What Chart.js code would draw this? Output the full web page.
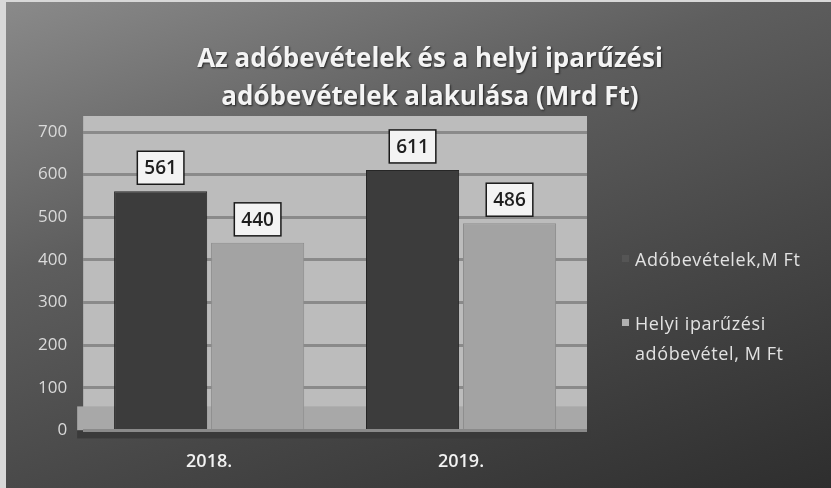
<!DOCTYPE html>
<html>
<head>
<meta charset="utf-8">
<script src="https://cdn.jsdelivr.net/npm/chart.js@4.4.1/dist/chart.umd.min.js"></script>
<style>
  html, body { margin: 0; padding: 0; }
  body { width: 831px; height: 488px; background: #d8d8d8; overflow: hidden; font-family: "Open Sans", sans-serif; }
  #wrap {
    position: absolute; left: 6px; top: 2px; width: 825px; height: 486px;
    background: linear-gradient(160deg, #8a8a8a 0%, #5e5e5e 35%, #474747 65%, #2e2e2e 100%);
  }
  #title {
    position: absolute; left: 130px; width: 600px; top: 38px;
    text-align: center; color: #f4f4f4; font-weight: bold; font-size: 26px; line-height: 38px;
    text-shadow: 1px 1px 2px #222;
  }
  #legend { position: absolute; left: 622px; top: 244px; color: #e2e2e2; font-size: 18px; letter-spacing: 0.6px; }
  #legend div { position: relative; padding-left: 13px; line-height: 30px; margin-bottom: 34px; }
  #legend span.box { position: absolute; left: 0; top: 11px; width: 7px; height: 7px; }
  canvas { position: absolute; left: 0; top: 0; }
</style>
</head>
<body>
<div id="wrap"></div>
<canvas id="myChart" width="831" height="488"></canvas>
<div id="title">Az adóbevételek és a helyi iparűzési<br>adóbevételek alakulása (Mrd Ft)</div>
<div id="legend"></div>
<script>
'use strict';
// data
var years = ['2018.', '2019.'];
var taxIncome = [561, 611];
var localTax = [440, 486];
var seriesNames = ['Adóbevételek,M Ft', 'Helyi iparűzési adóbevétel, M Ft'];
var yTicks = [0, 100, 200, 300, 400, 500, 600, 700];

var barColors = ['#3c3c3c', '#a3a3a3'];

// legend in html so the long name can wrap
var legendBox = document.getElementById('legend');
for (var i = 0; i < seriesNames.length; i++) {
    var item = document.createElement('div');
    var sq = document.createElement('span');
    sq.className = 'box';
    sq.style.background = i === 0 ? '#555' : '#b0b0b0';
    item.appendChild(sq);
    var t = document.createElement('span');
    // break the long one after "iparűzési" like the picture
    t.innerHTML = i === 1 ? 'Helyi iparűzési<br>adóbevétel, M Ft' : seriesNames[i];
    item.appendChild(t);
    legendBox.appendChild(item);
}

// grey back wall behind the bars
var wallPlugin = {
    id: 'wall',
    beforeDraw: function (chart) {
        var a = chart.chartArea;
        var ctx = chart.ctx;
        ctx.save();
        ctx.fillStyle = '#bcbcbc';
        ctx.fillRect(a.left, a.top - 16, a.right - a.left, a.bottom - a.top + 16);
        ctx.fillStyle = '#a8a8a8';
        ctx.fillRect(a.left - 6, a.bottom - 24, a.right - a.left + 6, 24);
        ctx.fillStyle = '#3a3a3a';
        ctx.fillRect(a.left - 6, a.bottom, a.right - a.left + 10, 8);
        ctx.restore();
    }
};

// value boxes above the bars
var valueBoxes = {
    id: 'valueBoxes',
    afterDatasetsDraw: function (chart) {
        var ctx = chart.ctx;
        ctx.save();
        ctx.font = '600 19px "Open Sans"';
        ctx.textAlign = 'center';
        ctx.textBaseline = 'middle';
        chart.data.datasets.forEach(function (ds, di) {
            chart.getDatasetMeta(di).data.forEach(function (bar, j) {
                var txt = String(ds.data[j]);
                var w = ctx.measureText(txt).width + 14;
                var h = 33;
                var x = bar.x - w / 2;
                var y = bar.y - 7 - h;
                ctx.fillStyle = '#f3f3f3';
                ctx.fillRect(x, y, w, h);
                ctx.lineWidth = 1.5;
                ctx.strokeStyle = '#1a1a1a';
                ctx.strokeRect(x, y, w, h);
                ctx.fillStyle = '#1e1e1e';
                ctx.fillText(txt, bar.x, y + h / 2 + 1);
            });
        });
        ctx.restore();
    }
};

var ctx = document.getElementById('myChart').getContext('2d');
var chart = new Chart(ctx, {
    type: 'bar',
    data: {
        labels: years,
        datasets: [{
            label: seriesNames[0],
            data: taxIncome,
            backgroundColor: barColors[0],
            borderColor: '#262626',
            borderWidth: 1
        }, {
            label: seriesNames[1],
            data: localTax,
            backgroundColor: barColors[1],
            borderColor: '#8e8e8e',
            borderWidth: 1
        }]
    },
    options: {
        responsive: false,
        animation: false,
        layout: { padding: { left: 22, right: 244, top: 132, bottom: 2 } },
        datasets: { bar: { categoryPercentage: 0.77, barPercentage: 0.96 } },
        plugins: {
            legend: { display: false },
            title: { display: false },
            tooltip: { enabled: false }
        },
        scales: {
            x: {
                grid: { display: false },
                border: { display: false },
                ticks: { color: '#f2f2f2', font: { family: 'Open Sans', size: 18, weight: '600' }, padding: 13 }
            },
            y: {
                min: 0,
                max: 700,
                afterBuildTicks: function (axis) {
                    axis.ticks = yTicks.map(function (v) { return { value: v }; });
                },
                grid: { color: '#8a8a8a', lineWidth: 3, drawTicks: false },
                border: { display: false },
                ticks: { color: '#dadada', font: { family: 'Open Sans', size: 17 }, padding: 16 }
            }
        }
    },
    plugins: [wallPlugin, valueBoxes]
});
</script>
</body>
</html>
